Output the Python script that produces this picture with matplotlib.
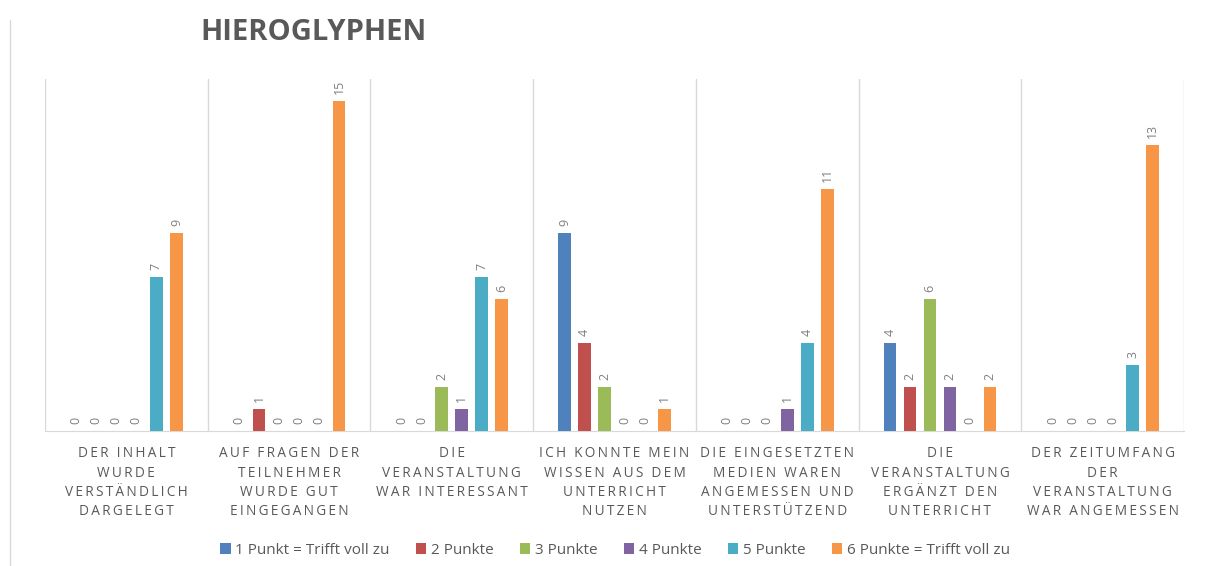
import matplotlib
matplotlib.use("Agg")
import matplotlib.pyplot as plt
import numpy as np

categories = [
    "DER INHALT\nWURDE\nVERSTÄNDLICH\nDARGELEGT",
    "AUF FRAGEN DER\nTEILNEHMER\nWURDE GUT\nEINGEGANGEN",
    "DIE\nVERANSTALTUNG\nWAR INTERESSANT",
    "ICH KONNTE MEIN\nWISSEN AUS DEM\nUNTERRICHT\nNUTZEN",
    "DIE EINGESETZTEN\nMEDIEN WAREN\nANGEMESSEN UND\nUNTERSTÜTZEND",
    "DIE\nVERANSTALTUNG\nERGÄNZT DEN\nUNTERRICHT",
    "DER ZEITUMFANG\nDER\nVERANSTALTUNG\nWAR ANGEMESSEN",
]
series_names = ["1 Punkt = Trifft voll zu", "2 Punkte", "3 Punkte",
                "4 Punkte", "5 Punkte", "6 Punkte = Trifft voll zu"]
p1 = [0, 0, 0, 9, 0, 4, 0]
p2 = [0, 1, 0, 4, 0, 2, 0]
p3 = [0, 0, 2, 2, 0, 6, 0]
p4 = [0, 0, 1, 0, 1, 2, 0]
p5 = [7, 0, 7, 0, 4, 0, 3]
p6 = [9, 15, 6, 1, 11, 2, 13]
series = [p1, p2, p3, p4, p5, p6]
colors = ["#4F81BD", "#C0504D", "#9BBB59", "#8064A2", "#4BACC6", "#F79646"]
title = "HIEROGLYPHEN"

FONT = ["Open Sans", "DejaVu Sans"]
plt.rcParams['font.family'] = FONT

def spaced(s):
    return "\n".join("\u2009".join(list(line)) for line in s.split("\n"))

fig = plt.figure(figsize=(12.12, 5.66), dpi=100)
ax = fig.add_axes([45/1212, 1-431/566, (1184-45)/1212, (431-79)/566])

x = np.arange(1, len(categories) + 1)
step = 0.123
width = 0.078
for i, (vals, c, name) in enumerate(zip(series, colors, series_names)):
    xs = x + (i - 2.5) * step
    ax.bar(xs, vals, width=width, color=c, label=name, zorder=3)
    for xx, v in zip(xs, vals):
        ax.annotate(str(v), (xx, v), xytext=(0, 5), textcoords="offset points",
                    rotation=90, ha="center", va="bottom", fontsize=9,
                    color="#808080")

ax.set_xlim(0.5, len(categories) + 0.5)
ax.set_ylim(0, 16)
ax.set_yticks([])
for b in np.arange(0.5, len(categories) + 1, 1):
    ax.axvline(b, color="#D9D9D9", lw=1, zorder=1)
for s in ["top", "right", "left"]:
    ax.spines[s].set_visible(False)
ax.spines["bottom"].set_color("#D9D9D9")
ax.set_xticks(x)
ax.set_xticklabels([spaced(c) for c in categories], fontsize=9.8,
                   color="#595959", linespacing=1.4)
ax.tick_params(axis="x", length=0, pad=11)

fig.text(200/1212, 1-32/566, title, fontsize=21, fontweight="bold",
         color="#595959", ha="left", va="center")

leg = fig.legend(loc="center", bbox_to_anchor=(615/1212, 1-550/566), ncol=6,
                 frameon=False, fontsize=11, handlelength=0.7, handleheight=0.7,
                 handletextpad=0.3, columnspacing=1.7)
for t in leg.get_texts():
    t.set_color("#595959")

# faint chart frame on left
fig.add_artist(plt.Line2D([10/1212, 10/1212], [1-20/566, 1-566/566],
                          color="#D9D9D9", lw=1, transform=fig.transFigure))

fig.savefig("out.png", dpi=100, facecolor="white")
